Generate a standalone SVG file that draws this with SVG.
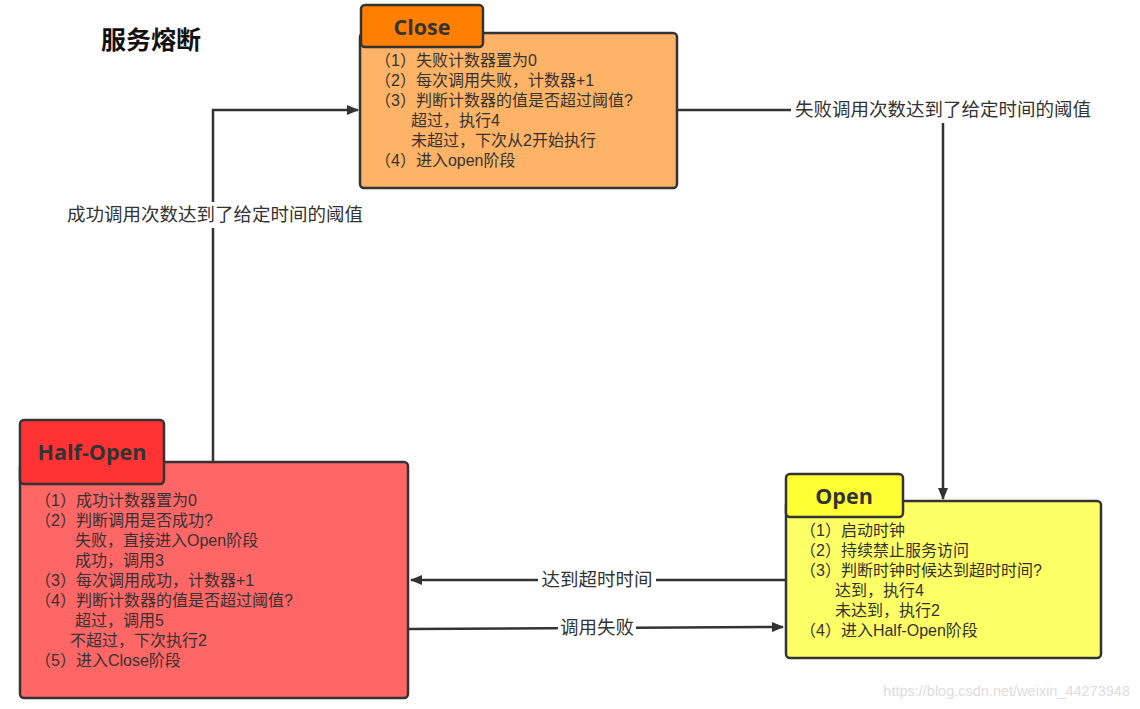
<svg xmlns="http://www.w3.org/2000/svg" width="1140" height="709" viewBox="0 0 1140 709">
<style>
.box{stroke:#333;stroke-width:2.5}
.hdr{font-family:"Open Sans","Noto Sans",sans-serif;font-weight:bold;font-size:21.5px;fill:#333;text-anchor:middle}
.t{font-family:"Liberation Sans","Noto Sans CJK SC",sans-serif;font-size:16px;fill:#333}
.lbl{font-family:"Liberation Sans","Noto Sans CJK SC",sans-serif;font-size:18.5px;fill:#333;text-anchor:middle}
.ln{stroke:#333;stroke-width:2.5;fill:none}
.bg{fill:#fff}
</style>
<defs>
<marker id="arr" viewBox="0 0 12 10" refX="11" refY="5" markerWidth="12" markerHeight="10" markerUnits="userSpaceOnUse" orient="auto">
<path d="M0,0 L12,5 L0,10 Z" fill="#333"/>
</marker>
</defs>
<rect width="1140" height="709" fill="#fff"/>
<text x="101" y="49" font-family="Liberation Sans,Noto Sans CJK SC,sans-serif" font-weight="bold" font-size="25" fill="#111">服务熔断</text>

<g id="connectors">
<path class="ln" d="M213,462 L213,110 L358,110" marker-end="url(#arr)"/>
<rect class="bg" x="63" y="202" width="304" height="26"/>
<text class="lbl" x="215" y="221">成功调用次数达到了给定时间的阈值</text>
<path class="ln" d="M677,110 L943,110 L943,499" marker-end="url(#arr)"/>
<rect class="bg" x="791" y="97" width="306" height="26"/>
<text class="lbl" x="943" y="116">失败调用次数达到了给定时间的阈值</text>
<path class="ln" d="M786,580 L411,580" marker-end="url(#arr)"/>
<rect class="bg" x="538" y="567" width="118" height="26"/>
<text class="lbl" x="597" y="586">达到超时时间</text>
<path class="ln" d="M408,629 L783,627" marker-end="url(#arr)"/>
<rect class="bg" x="558" y="615" width="78" height="26"/>
<text class="lbl" x="597" y="634">调用失败</text>
</g>

<g id="close">
<rect class="box" x="360" y="33" width="317" height="155" rx="4" fill="#FFB366"/>
<rect class="box" x="361" y="5" width="122" height="42" rx="4" fill="#FF8000"/>
<text class="hdr" x="422" y="35">Close</text>
<text class="t" x="375" y="66">（1）失败计数器置为0</text>
<text class="t" x="375" y="86">（2）每次调用失败，计数器+1</text>
<text class="t" x="375" y="106">（3）判断计数器的值是否超过阈值?</text>
<text class="t" x="411" y="126">超过，执行4</text>
<text class="t" x="411" y="146">未超过，下次从2开始执行</text>
<text class="t" x="375" y="166">（4）进入open阶段</text>
</g>

<g id="half-open">
<rect class="box" x="20" y="462" width="388" height="236" rx="4" fill="#FF6666"/>
<rect class="box" x="20" y="420" width="144" height="64" rx="4" fill="#FF3333"/>
<text class="hdr" x="92" y="460">Half-Open</text>
<text class="t" x="35" y="506">（1）成功计数器置为0</text>
<text class="t" x="35" y="526">（2）判断调用是否成功?</text>
<text class="t" x="75" y="546">失败，直接进入Open阶段</text>
<text class="t" x="75" y="566">成功，调用3</text>
<text class="t" x="35" y="586">（3）每次调用成功，计数器+1</text>
<text class="t" x="35" y="606">（4）判断计数器的值是否超过阈值?</text>
<text class="t" x="75" y="626">超过，调用5</text>
<text class="t" x="70" y="646">不超过，下次执行2</text>
<text class="t" x="35" y="666">（5）进入Close阶段</text>
</g>

<g id="open">
<rect class="box" x="786" y="501" width="315" height="157" rx="4" fill="#FFFF66"/>
<rect class="box" x="786" y="474" width="117" height="43" rx="4" fill="#FFFF33"/>
<text class="hdr" x="844" y="504">Open</text>
<text class="t" x="800" y="536">（1）启动时钟</text>
<text class="t" x="800" y="556">（2）持续禁止服务访问</text>
<text class="t" x="800" y="576">（3）判断时钟时候达到超时时间?</text>
<text class="t" x="835" y="596">达到，执行4</text>
<text class="t" x="835" y="616">未达到，执行2</text>
<text class="t" x="800" y="636">（4）进入Half-Open阶段</text>
</g>

<text x="1130" y="696" text-anchor="end" font-family="Liberation Sans,sans-serif" font-size="14.5" fill="#ddd">https://blog.csdn.net/weixin_44273948</text>
</svg>
